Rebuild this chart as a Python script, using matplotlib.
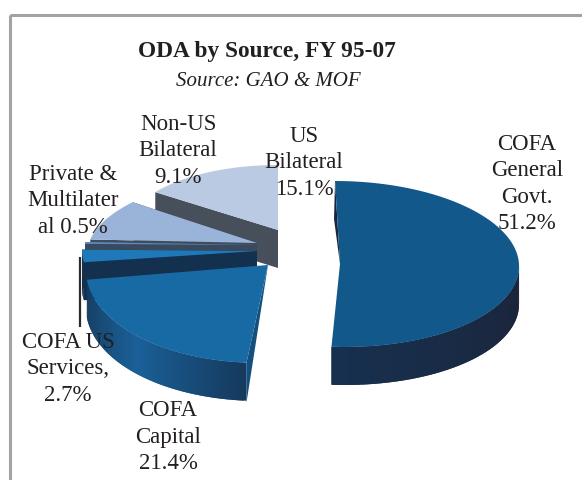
import numpy as np
import matplotlib
matplotlib.use("Agg")
import matplotlib.pyplot as plt
from matplotlib.colors import to_rgb
from matplotlib.patches import Rectangle

# ---- data ----
categories = ["COFA General Govt.", "COFA Capital", "COFA US Services",
              "Private & Multilateral", "Non-US Bilateral", "US Bilateral"]
shares = [51.2, 21.4, 2.7, 0.5, 9.1, 15.1]
label_texts = ["COFA\nGeneral\nGovt.\n51.2%", "COFA\nCapital\n21.4%",
               "COFA US\nServices,\n2.7%", "Private &\nMultilater\nal 0.5%",
               "Non-US\nBilateral\n9.1%", "US\nBilateral\n15.1%"]
title_text = "ODA by Source, FY 95-07"
subtitle_text = "Source: GAO & MOF"

# ---- style / layout (pixels of the 582x480 canvas) ----
W, H = 582, 480
DEPTH = 38
apex = [(340, 264), (268, 265), (257, 251), (257, 245), (257, 243), (278, 230)]
radii = [(179, 83), (182, 98), (175, 75), (172, 60), (168, 70), (151, 65)]
shear = [0.06, -0.08, 0, 0, -0.3, 0]
top_col = ["#13588a", "#186aa4", "#1f78b8", "#5b8cc0", "#9ab3d8", "#b9cae2"]
wall_cut = ["#17263f", "#14507f", "#14304f", "#3a4a5e", "#3f4c5c", "#474f5b"]
wall_a = ["#17304f", "#1a6098", "#14304f", "#3a4a5e", "#3f4c5c", "#474f5b"]
wall_b = ["#1b2438", "#153a5e", "#14304f", "#3a4a5e", "#3f4c5c", "#474f5b"]
label_pos = [(527, 184), (168, 437), (68, 369), (73, 201), (178, 151), (304, 163)]
INK = "#231f20"
SERIF = "Liberation Serif"

fig = plt.figure(figsize=(W / 100, H / 100), dpi=100, facecolor="white")
ax = fig.add_axes([0, 0, 1, 1])
ax.set_xlim(0, W)
ax.set_ylim(H, 0)
ax.axis("off")

# frame that runs off the right and bottom of the picture
ax.add_patch(Rectangle((9.5, 14.5), W + 20, H + 20, fill=False, ec="#a3a3a3", lw=2.2))

# slice angles, clockwise from twelve o'clock
edges = np.radians(np.concatenate([[0], np.cumsum(shares)]) / sum(shares) * 360)


def point(i, t):
    cx, cy = apex[i]
    rx, ry = radii[i]
    dy = -ry * np.cos(t)
    return cx + rx * np.sin(t) + shear[i] * dy, cy + dy


for i in [5, 4, 3, 2, 1, 0]:
    t = np.linspace(edges[i], edges[i + 1], 100)
    cx, cy = apex[i]
    x, y = point(i, t)

    # radial cut walls
    if i == 0:
        xt, yt = point(i, edges[0])
        ax.fill([xt, cx, xt - 1], [yt, cy, yt + 38], color=wall_cut[i], lw=0)
    elif i == 1:
        xe, ye = point(i, edges[1])
        ax.fill([cx, xe, xe], [cy, ye, ye + DEPTH + 2], color=wall_cut[i], lw=0)
    else:
        for tt in (edges[i], edges[i + 1]):
            xe, ye = point(i, tt)
            ax.fill([cx, xe, xe, cx], [cy, ye, ye + DEPTH, cy + DEPTH],
                    color=wall_cut[i], lw=0)

    # curved outer wall, drawn as overlapping shaded strips facing the viewer
    ca, cb = np.array(to_rgb(wall_a[i])), np.array(to_rgb(wall_b[i]))
    front = np.abs(np.mod(t, 2 * np.pi) - np.pi) < np.pi / 2 + 0.001
    if i in (0, 1, 2):
        idx = np.where(front)[0] if i != 2 else np.arange(len(t))
        n = len(idx) - 1
        for k in range(n):
            a, b = idx[k], idx[min(k + 2, n)]
            f = k / max(n - 1, 1)
            col = cb * (1 - f) + ca * f if i == 0 else ca * (1 - abs(2 * f - 1)) + cb * abs(2 * f - 1)
            ax.fill([x[a], x[b], x[b], x[a]],
                    [y[a], y[b], y[b] + DEPTH, y[a] + DEPTH],
                    color=col, lw=0)

    # top face
    ax.fill(np.r_[cx, x], np.r_[cy, y], color=top_col[i], lw=0)

# labels
for txt, (lx, ly) in zip(label_texts, label_pos):
    ax.text(lx, ly, txt, ha="center", va="center", family=SERIF, fontsize=16.5,
            color=INK, linespacing=1.33)

# leader line for COFA US Services
ax.plot([80, 80], [257, 327], color="#2a2a2a", lw=1.6, solid_capstyle="butt")

ax.text(267, 52, title_text, ha="center", va="center", family=SERIF,
        fontsize=16.8, fontweight="bold", color=INK)
ax.text(268, 81, subtitle_text, ha="center", va="center", family=SERIF,
        fontsize=15, style="italic", color=INK)

fig.savefig("out.png", dpi=100)
